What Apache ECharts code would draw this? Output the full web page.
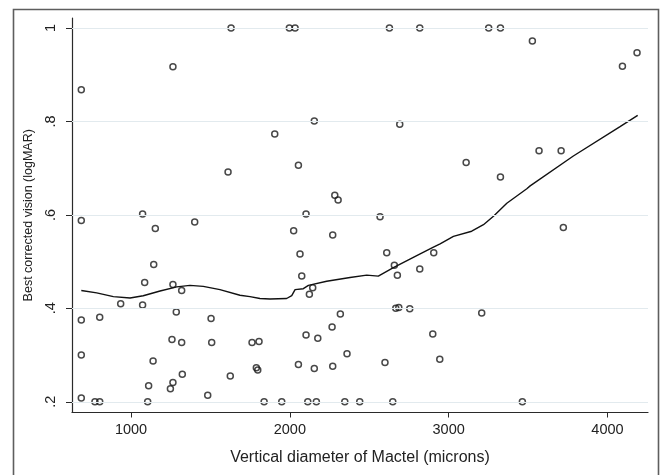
<!DOCTYPE html>
<html>
<head>
<meta charset="utf-8">
<script src="https://cdn.jsdelivr.net/npm/echarts@6/dist/echarts.min.js"></script>
<style>
html,body{margin:0;padding:0;background:#fff;}
#chart{width:661px;height:475px;}
</style>
</head>
<body>
<div id="chart"></div>
<script>
// Scatter data: vertical diameter (microns) and best corrected vision (logMAR)
var diameter = [
  1630, 1997, 2033, 2627, 2818, 3252, 3326,
  3527, 4186, 4094, 1264, 687,
  2154, 2692, 1905, 3569, 3708, 3110, 2054, 1611, 3326,
  2283, 2304, 1073, 2102, 2568, 687, 1401, 3722, 1153, 2024, 2270,
  2610, 2906, 2064, 1143, 2658, 2818, 2677, 2075, 1086, 1264, 2144, 1319, 2123,
  935, 1073, 2686, 2667, 2755, 1285, 3208, 2318, 803, 1504, 687,
  2266, 2900, 2102, 2176, 1258, 1806, 1319, 1508, 1762,
  2360, 687, 2944, 1139, 2599, 2054, 2270, 1789, 2154, 1798,
  1323, 1625, 1264, 1111, 1248, 1483, 687,
  773, 803, 1105, 1838, 1949, 2113, 2167, 2346, 2440, 2648, 3464
];
var vision = [
  1.0, 1.0, 1.0, 1.0, 1.0, 1.0, 1.0,
  0.972, 0.947, 0.918, 0.917, 0.868,
  0.801, 0.794, 0.773, 0.737, 0.737, 0.712, 0.706, 0.692, 0.681,
  0.642, 0.632, 0.602, 0.602, 0.596, 0.588, 0.585, 0.573, 0.571, 0.566, 0.557,
  0.519, 0.519, 0.516, 0.494, 0.492, 0.484, 0.471, 0.469, 0.455, 0.451, 0.444, 0.438, 0.430,
  0.410, 0.407, 0.402, 0.400, 0.399, 0.392, 0.390, 0.388, 0.381, 0.378, 0.375,
  0.360, 0.345, 0.343, 0.336, 0.333, 0.329, 0.327, 0.327, 0.327,
  0.303, 0.300, 0.291, 0.287, 0.284, 0.280, 0.276, 0.273, 0.271, 0.268,
  0.259, 0.255, 0.241, 0.234, 0.228, 0.214, 0.208,
  0.2, 0.2, 0.2, 0.2, 0.2, 0.2, 0.2, 0.2, 0.2, 0.2, 0.2
];
// Lowess smoothed curve
var lowessX = [687, 784, 889, 994, 1077, 1183, 1288, 1371, 1455, 1560, 1686, 1749, 1812, 1875, 1980, 2012, 2033, 2085, 2117, 2232, 2379, 2484, 2557, 2652, 2799, 2904, 2946, 3030, 3145, 3219, 3282, 3366, 3492, 3513, 3785, 4079, 4190];
var lowessY = [0.438, 0.433, 0.425, 0.422, 0.427, 0.437, 0.446, 0.449, 0.447, 0.440, 0.428, 0.425, 0.421, 0.420, 0.421, 0.427, 0.440, 0.442, 0.449, 0.458, 0.466, 0.471, 0.469, 0.487, 0.513, 0.531, 0.538, 0.554, 0.565, 0.579, 0.597, 0.625, 0.656, 0.662, 0.726, 0.789, 0.813];
// Tick values and labels
var xTicks = [1000, 2000, 3000, 4000];
var xTickLabels = ['1000', '2000', '3000', '4000'];
var yTicks = [0.2, 0.4, 0.6, 0.8, 1.0];
var yTickLabels = ['.2', '.4', '.6', '.8', '1'];

var xTitle = 'Vertical diameter of Mactel (microns)';
var yTitle = 'Best corrected vision (logMAR)';

var scatterData = diameter.map(function (d, i) { return [d, vision[i]]; });
var lowessData = lowessX.map(function (d, i) { return [d, lowessY[i]]; });

function labelFor(ticks, labels) {
  return function (v) {
    for (var i = 0; i < ticks.length; i++) {
      if (Math.abs(ticks[i] - v) < 1e-6) return labels[i];
    }
    return '';
  };
}

var chart = echarts.init(document.getElementById('chart'), null, {renderer: 'canvas'});
var font = 'Liberation Sans, Arial, Helvetica, sans-serif';
chart.setOption({
  animation: false,
  backgroundColor: '#ffffff',
  graphic: [{
    type: 'rect',
    shape: {x: 13.5, y: 9.5, width: 645, height: 480},
    style: {fill: 'none', stroke: '#5e5e5e', lineWidth: 1.6},
    silent: true,
    z: 0
  }],
  grid: {left: 72, right: 13, top: 18, bottom: 62.5, containLabel: false},
  xAxis: {
    type: 'value',
    min: 628.5,
    max: 4255,
    name: xTitle,
    nameLocation: 'middle',
    nameGap: 37,
    nameTextStyle: {fontFamily: font, fontSize: 16, color: '#222'},
    axisLine: {show: true, onZero: false, lineStyle: {color: '#2a2a2a', width: 1.2}},
    axisTick: {show: true, length: 5, customValues: xTicks, lineStyle: {color: '#2a2a2a', width: 1}},
    axisLabel: {show: true, customValues: xTicks, formatter: labelFor(xTicks, xTickLabels), margin: 10, fontFamily: font, fontSize: 14.5, color: '#222'},
    splitLine: {show: false}
  },
  yAxis: {
    type: 'value',
    min: 0.177,
    max: 1.0214,
    name: yTitle,
    nameLocation: 'middle',
    nameGap: 37,
    nameRotate: 90,
    nameTextStyle: {fontFamily: font, fontSize: 12.5, color: '#222'},
    axisLine: {show: true, onZero: false, lineStyle: {color: '#2a2a2a', width: 1.2}},
    axisTick: {show: true, length: 6, customValues: yTicks, lineStyle: {color: '#2a2a2a', width: 1}},
    axisLabel: {show: true, customValues: yTicks, formatter: labelFor(yTicks, yTickLabels), rotate: 90, margin: 14, fontFamily: font, fontSize: 14.5, color: '#222'},
    splitLine: {show: false}
  },
  series: [
    {
      type: 'scatter',
      data: scatterData,
      symbol: 'circle',
      symbolSize: 6,
      z: 3,
      itemStyle: {color: 'rgba(255,255,255,0)', borderColor: '#1a1a1a', borderWidth: 1.5},
      markLine: {
        silent: true,
        symbol: 'none',
        label: {show: false},
        lineStyle: {color: '#e2eaee', width: 1.2, type: 'solid'},
        emphasis: {disabled: true},
        data: yTicks.map(function (v) { return {yAxis: v}; })
      }
    },
    {
      type: 'line',
      data: lowessData,
      showSymbol: false,
      smooth: false,
      z: 4,
      lineStyle: {color: '#111', width: 1.4}
    }
  ]
});
</script>
</body>
</html>
